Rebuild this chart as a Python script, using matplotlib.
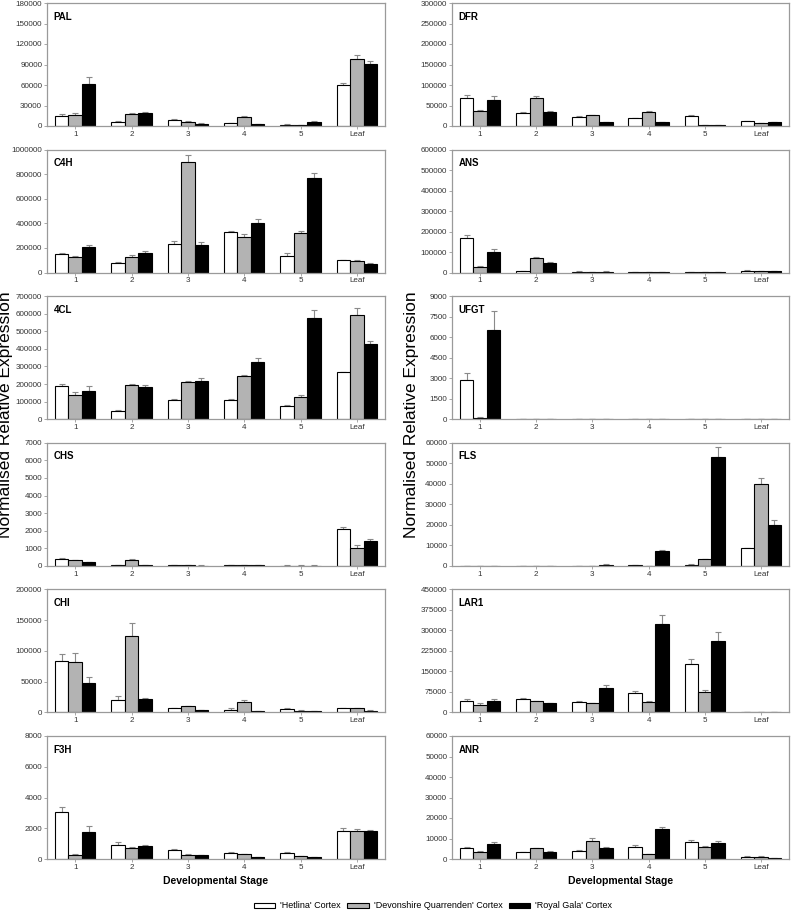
import numpy as np
import matplotlib
matplotlib.use("Agg")
from matplotlib import pyplot as plt
from matplotlib.patches import Patch

plt.rcParams['font.family'] = ['Liberation Sans', 'DejaVu Sans']

stages = ['1', '2', '3', '4', '5', 'Leaf']
series = ["'Hetlina' Cortex", "'Devonshire Quarrenden' Cortex", "'Royal Gala' Cortex"]
colors = ['white', '#b3b3b3', 'black']

# left column genes: means [white, gray, black] and upper errors
pal_mean = [[15000, 6000, 9500, 4500, 2000, 60500],
            [16000, 17500, 6500, 13500, 1500, 98000],
            [62000, 19000, 3500, 3000, 6000, 91000]]
pal_err = [[2000, 1000, 500, 300, 300, 3000],
           [2500, 1000, 800, 1000, 300, 6500],
           [10000, 1000, 500, 300, 800, 3500]]

c4h_mean = [[150000, 78000, 233000, 328000, 137000, 102000],
            [130000, 128000, 900000, 290000, 323000, 92000],
            [208000, 157000, 228000, 402000, 772000, 72000]]
c4h_err = [[8000, 5000, 25000, 10000, 20000, 4000],
           [5000, 12000, 55000, 20000, 15000, 8000],
           [15000, 15000, 18000, 30000, 35000, 3000]]

cl4_mean = [[187000, 47000, 112000, 107000, 75000, 268000],
            [135000, 193000, 214000, 248000, 127000, 592000],
            [163000, 182000, 220000, 325000, 578000, 428000]]
cl4_err = [[15000, 6000, 5000, 6000, 8000, 3000],
           [18000, 6000, 5000, 5000, 12000, 40000],
           [28000, 12000, 12000, 22000, 42000, 15000]]

chs_mean = [[390, 30, 20, 20, 15, 2080],
            [310, 330, 25, 25, 15, 1040],
            [200, 30, 15, 20, 15, 1420]]
chs_err = [[40, 10, 5, 5, 5, 150],
           [30, 40, 5, 5, 5, 120],
           [30, 10, 5, 5, 5, 110]]

chi_mean = [[84000, 20000, 7000, 4500, 6000, 6500],
            [82000, 125000, 10000, 17000, 3000, 6500],
            [48000, 22000, 3500, 2000, 1500, 3000]]
chi_err = [[11000, 6000, 800, 3000, 1000, 500],
           [15000, 20000, 500, 3000, 300, 800],
           [9000, 2000, 500, 300, 300, 300]]

f3h_mean = [[3050, 900, 600, 420, 420, 1850],
            [280, 700, 270, 320, 200, 1800],
            [1750, 850, 260, 110, 110, 1800]]
f3h_err = [[300, 180, 40, 30, 30, 150],
           [50, 50, 30, 30, 20, 180],
           [400, 60, 20, 20, 20, 80]]

# right column genes
dfr_mean = [[69000, 31000, 22000, 19000, 25000, 12000],
            [36000, 69000, 27000, 35000, 1500, 7000],
            [63000, 35000, 10000, 10000, 2500, 9000]]
dfr_err = [[6000, 4000, 1500, 1000, 2000, 800],
           [4000, 4000, 1000, 1500, 300, 800],
           [10000, 2500, 800, 800, 300, 800]]

ans_mean = [[170000, 8000, 5000, 3000, 3000, 10000],
            [28000, 71000, 2000, 3000, 1000, 7000],
            [100000, 47000, 5000, 2000, 1000, 8000]]
ans_err = [[15000, 1500, 500, 300, 300, 800],
           [4000, 5000, 300, 300, 200, 500],
           [15000, 6000, 500, 300, 200, 500]]

ufgt_mean = [[2900, 20, 10, 10, 30, 5],
             [100, 30, 10, 40, 10, 5],
             [6500, 25, 10, 10, 10, 5]]
ufgt_err = [[500, 5, 2, 2, 5, 1],
            [40, 5, 2, 10, 2, 1],
            [1450, 5, 2, 2, 2, 1]]

fls_mean = [[50, 50, 50, 200, 600, 8500],
            [50, 50, 50, 50, 3200, 40000],
            [50, 50, 600, 7000, 53000, 20000]]
fls_err = [[10, 10, 10, 30, 100, 300],
           [10, 10, 10, 10, 300, 3000],
           [10, 10, 100, 500, 5000, 2300]]

lar1_mean = [[42000, 49000, 37000, 71000, 178000, 1500],
             [27000, 40000, 34000, 37000, 75000, 1500],
             [43000, 33000, 91000, 325000, 262000, 1500]]
lar1_err = [[8000, 5000, 3000, 7000, 17000, 200],
            [7000, 2000, 2000, 3000, 8000, 200],
            [7000, 2000, 10000, 30000, 32000, 200]]

anr_mean = [[5200, 3200, 4000, 5800, 8200, 1200],
            [3500, 5200, 9000, 2200, 5800, 1100],
            [7200, 3500, 5200, 14500, 8000, 500]]
anr_err = [[500, 300, 300, 1200, 1100, 200],
           [500, 300, 1300, 300, 500, 200],
           [1200, 400, 700, 1000, 900, 100]]

left_genes = [('PAL', 180000, 30000, pal_mean, pal_err),
              ('C4H', 1000000, 200000, c4h_mean, c4h_err),
              ('4CL', 700000, 100000, cl4_mean, cl4_err),
              ('CHS', 7000, 1000, chs_mean, chs_err),
              ('CHI', 200000, 50000, chi_mean, chi_err),
              ('F3H', 8000, 2000, f3h_mean, f3h_err)]
right_genes = [('DFR', 300000, 50000, dfr_mean, dfr_err),
               ('ANS', 600000, 100000, ans_mean, ans_err),
               ('UFGT', 9000, 1500, ufgt_mean, ufgt_err),
               ('FLS', 60000, 10000, fls_mean, fls_err),
               ('LAR1', 450000, 75000, lar1_mean, lar1_err),
               ('ANR', 60000, 10000, anr_mean, anr_err)]

W, H = 791, 914
fig = plt.figure(figsize=(W / 100, H / 100), dpi=100)

width = 0.24
x = np.arange(len(stages))
spine_col = '#9a9a9a'


def draw_panel(ax, name, ymax, step, means, errs):
    for i in range(3):
        pos = x + (i - 1) * width
        ax.bar(pos, means[i], width, color=colors[i], edgecolor='black',
               linewidth=0.8, zorder=2)
        ax.errorbar(pos, means[i], yerr=[np.zeros(len(stages)), errs[i]],
                    fmt='none', ecolor='#8a8a8a', elinewidth=0.8, capsize=2,
                    capthick=0.8, zorder=1)
    ticks = np.arange(0, ymax + step / 2, step)
    ax.set_xlim(-0.5, len(stages) - 0.5)
    ax.set_ylim(0, ymax)
    ax.set_yticks(ticks)
    ax.set_yticklabels([f"{int(v)}" for v in ticks])
    ax.set_xticks(x)
    ax.set_xticklabels(stages)
    ax.tick_params(axis='both', labelsize=5.8, labelcolor='#333333', length=2,
                   width=0.6, pad=1.5, color=spine_col)
    for s in ax.spines.values():
        s.set_color(spine_col)
        s.set_linewidth(0.9)
    ax.text(0.02, 0.89, name, transform=ax.transAxes, fontsize=7,
            fontweight='bold', va='center', ha='left')


cols = [(47, 385, left_genes), (452, 789, right_genes)]
for x0, x1, genes in cols:
    for r, (name, ymax, step, means, errs) in enumerate(genes):
        top = 3 + 146.6 * r
        bot = top + 123
        ax = fig.add_axes([x0 / W, 1 - bot / H, (x1 - x0) / W, (bot - top) / H])
        draw_panel(ax, name, ymax, step, means, errs)
    fig.text((x0 + x1) / 2 / W, 1 - 881 / H, 'Developmental Stage',
             fontsize=7.5, fontweight='bold', ha='center', va='center')

fig.text(6 / W, 1 - 415 / H, 'Normalised Relative Expression', rotation=90,
         fontsize=12.5, ha='center', va='center')
fig.text(411 / W, 1 - 415 / H, 'Normalised Relative Expression', rotation=90,
         fontsize=12.5, ha='center', va='center')

handles = [Patch(facecolor=c, edgecolor='black', linewidth=0.8) for c in colors]
fig.legend(handles, series, loc='center', bbox_to_anchor=(433 / W, 1 - 906 / H),
           ncol=3, frameon=False, fontsize=6.5, handlelength=2.4,
           handleheight=0.55, handletextpad=0.55, columnspacing=0.7)

fig.savefig('out.png', dpi=100)
